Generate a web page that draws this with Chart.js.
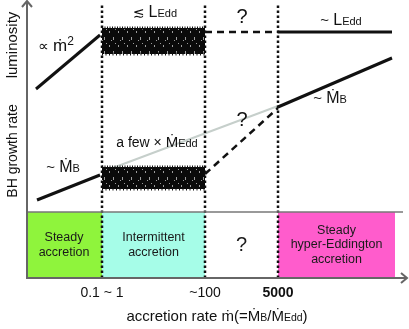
<!DOCTYPE html>
<html>
<head>
<meta charset="utf-8">
<script src="https://cdn.jsdelivr.net/npm/chart.js@4.4.0/dist/chart.umd.min.js"></script>
<style>
  body { margin: 0; background: #fff; }
  #wrap { width: 409px; height: 329px; }
</style>
</head>
<body>
<div id="wrap"><canvas id="c"></canvas></div>
<script>
// schematic units: x = position along accretion rate axis, y = height above the bottom axis
const regionEdges = [0, 76, 179, 252, 369];
const regionTop = 66;
const regionLabels = [['Steady', 'accretion'], ['Intermittent', 'accretion'], ['?'], ['Steady', 'hyper-Eddington', 'accretion']];
const tickValues = [76, 179, 252];
const tickLabels = ['0.1 ~ 1', '~100', '5000'];

// luminosity panel
const lumSteadyX = [10, 74];
const lumSteadyY = [189, 243];
const lumBurstX = [76, 179];
const lumBurstTop = [250, 250];
const lumBurstBottom = [224, 224];
const lumUnknownX = [179, 252];
const lumUnknownY = [246, 246];
const lumHyperX = [252, 366];
const lumHyperY = [246, 246];

// BH growth rate panel
const growSteadyX = [11, 74];
const growSteadyY = [78, 103];
const growBurstX = [76, 179];
const growBurstTop = [111, 111];
const growBurstBottom = [89, 89];
const growFewX = [76, 252];
const growFewY = [106, 172];
const growUnknownX = [179, 252];
const growUnknownY = [104, 170];
const growHyperX = [252, 366];
const growHyperY = [171, 220];

const pts = (xs, ys) => xs.map((x, i) => ({ x: x, y: ys[i] }));

// noisy-looking fill for the intermittent bursts
function burstPattern() {
    const c = document.createElement('canvas');
    c.width = 9; c.height = 14;
    const g = c.getContext('2d');
    g.fillStyle = '#0a0a0a';
    g.fillRect(0, 0, 9, 14);
    g.fillStyle = 'rgba(255,255,255,0.6)';
    g.fillRect(1, 3, 1, 2);
    g.fillRect(5, 9, 1, 3);
    g.fillRect(7, 1, 1, 1);
    g.fillRect(3, 12, 1, 1);
    return g.createPattern(c, 'repeat');
}
const pattern = burstPattern();

const regionColors = ['#8ff43c', '#a6fde8', null, '#ff5ccc'];
const datasets = [];

regionColors.forEach((col, i) => {
    if (!col) return;
    datasets.push({
        data: pts([regionEdges[i], regionEdges[i + 1]], [regionTop, regionTop]),
        showLine: true, borderWidth: 0, pointRadius: 0,
        backgroundColor: col, fill: 'origin', order: 9
    });
});

tickValues.forEach(v => {
    datasets.push({
        data: pts([v, v], [0, 273]),
        showLine: true, borderColor: '#111', borderWidth: 2.5, borderDash: [2.5, 2.5],
        pointRadius: 0, fill: false, order: 3
    });
});

function line(xs, ys, extra) {
    datasets.push(Object.assign({
        data: pts(xs, ys), showLine: true, borderColor: '#111', borderWidth: 3,
        pointRadius: 0, fill: false, order: 1
    }, extra || {}));
}
function burst(xs, top, bottom) {
    // ragged fringe above and below the band
    line(xs, top, { borderWidth: 3, borderDash: [1, 1.5], order: 2 });
    line(xs, bottom, { borderWidth: 3, borderDash: [1, 2.5], order: 2, fill: '-1', backgroundColor: pattern });
}

line(lumSteadyX, lumSteadyY);
burst(lumBurstX, lumBurstTop, lumBurstBottom);
line(lumUnknownX, lumUnknownY, { borderDash: [7, 5], borderWidth: 2.5 });
line(lumHyperX, lumHyperY);

line(growSteadyX, growSteadyY);
line(growFewX, growFewY, { borderColor: '#c6cfcb', borderWidth: 2, order: 4 });
burst(growBurstX, growBurstTop, growBurstBottom);
line(growUnknownX, growUnknownY, { borderDash: [7, 5], borderWidth: 2.5 });
line(growHyperX, growHyperY);

const FONT = '"Liberation Sans", "DejaVu Sans", Arial, sans-serif';

// draw runs of text [text, size, bold, dy] on one baseline, centred on cx
function richText(ctx, runs, cx, by) {
    let w = 0;
    runs.forEach(r => {
        ctx.font = (r[2] ? 'bold ' : '') + r[1] + 'px ' + FONT;
        w += ctx.measureText(r[0]).width;
    });
    let x = cx - w / 2;
    ctx.textAlign = 'left';
    ctx.textBaseline = 'alphabetic';
    runs.forEach(r => {
        ctx.font = (r[2] ? 'bold ' : '') + r[1] + 'px ' + FONT;
        ctx.fillText(r[0], x, by + (r[3] || 0));
        x += ctx.measureText(r[0]).width;
    });
}

const notes = [
    { x: 30, y: 227, runs: [['\u221D ', 15], ['\u1E41', 17], ['2', 12, false, -6]] },
    { x: 129, y: 261, runs: [['\u2272 ', 14], ['L', 16], ['Edd', 11]] },
    { x: 216, y: 255, runs: [['?', 20]] },
    { x: 315, y: 253, runs: [['~ ', 15], ['L', 16], ['Edd', 11]] },
    { x: 304, y: 175, runs: [['~ ', 15], ['\u1E40', 16], ['B', 11]] },
    { x: 216, y: 152, runs: [['?', 20]] },
    { x: 131, y: 131, runs: [['a few \u00D7 ', 14], ['\u1E40', 15], ['Edd', 11]] },
    { x: 37, y: 106, runs: [['~ ', 15], ['\u1E40', 16], ['B', 11]] }
];

const decor = {
    id: 'decor',
    afterDraw(chart) {
        const ctx = chart.ctx;
        const xs = chart.scales.x, ys = chart.scales.y;
        const X = v => xs.getPixelForValue(v), Y = v => ys.getPixelForValue(v);
        ctx.save();
        ctx.lineCap = 'butt';

        // panel separator
        ctx.strokeStyle = '#777';
        ctx.lineWidth = 1.5;
        ctx.beginPath();
        ctx.moveTo(X(0), Y(regionTop));
        ctx.lineTo(X(377), Y(regionTop));
        ctx.stroke();

        // axes with arrows
        ctx.strokeStyle = '#666';
        ctx.lineWidth = 2;
        ctx.beginPath();
        ctx.moveTo(X(0) + 1, Y(0));
        ctx.lineTo(X(0) + 1, 1);
        ctx.moveTo(X(0) - 4, 7);
        ctx.lineTo(X(0) + 1, 1);
        ctx.lineTo(X(0) + 6, 7);
        ctx.moveTo(X(0), Y(0));
        ctx.lineTo(X(382) - 1, Y(0));
        ctx.moveTo(X(382) - 7, Y(0) - 5);
        ctx.lineTo(X(382) - 1, Y(0));
        ctx.lineTo(X(382) - 7, Y(0) + 5);
        ctx.stroke();

        ctx.fillStyle = '#111';
        notes.forEach(n => richText(ctx, n.runs, X(n.x), Y(n.y)));

        // region names
        ctx.fillStyle = '#1a1a1a';
        ctx.textAlign = 'center';
        ctx.textBaseline = 'middle';
        regionLabels.forEach((lines, i) => {
            const cx = (X(regionEdges[i]) + X(regionEdges[i + 1])) / 2;
            const cy = (Y(0) + Y(regionTop)) / 2;
            const size = lines[0] === '?' ? 20 : 12.5;
            ctx.font = size + 'px ' + FONT;
            const lh = 14.5;
            lines.forEach((t, k) => ctx.fillText(t, cx, cy + (k - (lines.length - 1) / 2) * lh));
        });

        // tick labels
        ctx.fillStyle = '#111';
        tickLabels.forEach((t, i) => {
            ctx.font = (i === 2 ? 'bold ' : '') + '14px ' + FONT;
            ctx.textAlign = 'center';
            ctx.fillText(t, X(tickValues[i]), Y(0) + 15);
        });

        // axis titles
        richText(ctx, [['accretion rate ', 15], ['\u1E41', 15], ['(=', 15], ['\u1E40', 15], ['B', 10.5], ['/', 15], ['\u1E40', 15], ['Edd', 10.5], [')', 15]], 217, 321);

        ctx.translate(13, 0);
        ctx.rotate(-Math.PI / 2);
        ctx.textAlign = 'center';
        ctx.textBaseline = 'middle';
        ctx.font = '15px ' + FONT;
        ctx.fillText('luminosity', -45, 0);
        ctx.font = '14px ' + FONT;
        ctx.fillText('BH growth rate', -151, 0);
        ctx.restore();
    }
};

new Chart(document.getElementById('c'), {
    type: 'scatter',
    data: { datasets: datasets },
    options: {
        responsive: true,
        maintainAspectRatio: false,
        animation: false,
        layout: { padding: { left: 26, top: 2, right: 1, bottom: 51 } },
        scales: {
            x: { type: 'linear', min: 0, max: 382, display: false },
            y: { type: 'linear', min: 0, max: 276, display: false }
        },
        plugins: { legend: { display: false }, tooltip: { enabled: false } },
        elements: { line: { tension: 0 } }
    },
    plugins: [decor]
});
</script>
</body>
</html>
